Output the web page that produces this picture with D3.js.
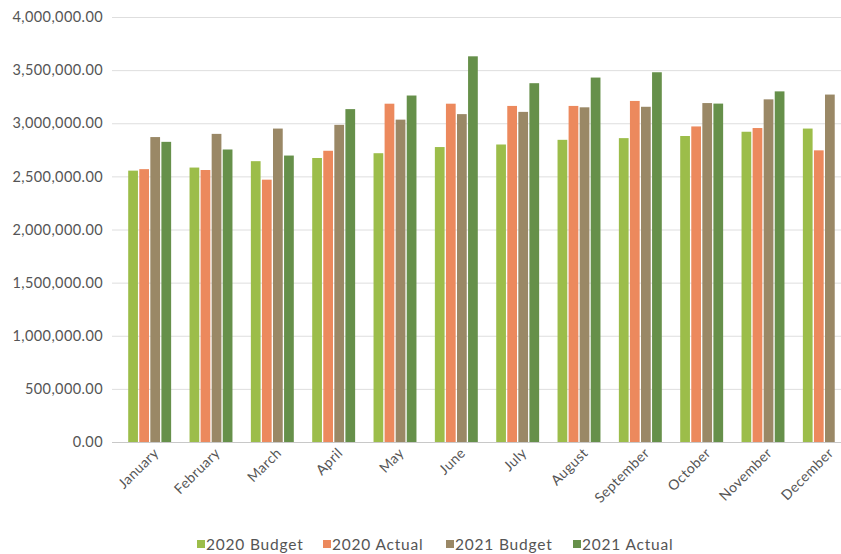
<!DOCTYPE html>
<html><head><meta charset="utf-8">
<script src="https://cdn.jsdelivr.net/npm/d3@7"></script>
<style>body{margin:0;background:#fff;} svg{display:block;}</style>
</head><body>
<svg id="c" width="841" height="554"></svg>
<script>
const months = ["January","February","March","April","May","June","July","August","September","October","November","December"];
const seriesNames = ["2020 Budget","2020 Actual","2021 Budget","2021 Actual"];
const budget2020 = [2554000,2583000,2643000,2673000,2718000,2776000,2800000,2844000,2860000,2880000,2920000,2950000];
const actual2020 = [2568000,2560000,2469000,2741000,3184000,3184000,3163000,3163000,3210000,2970000,2955000,2745000];
const budget2021 = [2870000,2900000,2950000,2985000,3034000,3086000,3107000,3150000,3155000,3190000,3225000,3270000];
const actual2021 = [2825000,2753000,2696000,3133000,3261000,3630000,3377000,3430000,3480000,3185000,3300000,0];
const yTicks = [0,500000,1000000,1500000,2000000,2500000,3000000,3500000,4000000];
const colors = ["#9cbd4a","#ec895d","#9a8866","#66904a"];

const svg = d3.select("#c");
const font = "Lato, 'Open Sans', sans-serif";
const values = [budget2020, actual2020, budget2021, actual2021];

const y = d3.scaleLinear().domain([0,4000000]).range([442,17]);
const x = d3.scaleBand().domain(months).range([119,855]).paddingInner(0.3).paddingOuter(0.15);
const xs = d3.scaleBand().domain(seriesNames).range([0,x.bandwidth()]).paddingInner(0.12);

// gridlines
svg.append("g").selectAll("line").data(yTicks).join("line")
  .attr("x1",112).attr("x2",841)
  .attr("y1",d=>y(d)+0.5).attr("y2",d=>y(d)+0.5)
  .attr("stroke",d=>d===0?"#c8c8c8":"#dedede").attr("stroke-width",1);

// y axis labels
const yAxis = d3.axisLeft(y).tickValues(yTicks).tickSize(0).tickPadding(0)
  .tickFormat(d=>d3.format(",.2f")(d));
const ya = svg.append("g").attr("transform","translate(103,0)").call(yAxis);
ya.select(".domain").remove();
ya.selectAll("text").attr("font-family",font).attr("font-size",14.5).attr("letter-spacing","0.4px").attr("fill","#555");

// bars
const g = svg.append("g");
seriesNames.forEach((s,si)=>{
  g.append("g").selectAll("rect").data(months.map((m,i)=>({m,v:values[si][i]})).filter(d=>d.v>0))
    .join("rect")
    .attr("x",d=>x(d.m)+xs(s))
    .attr("width",xs.bandwidth())
    .attr("y",d=>y(d.v))
    .attr("height",d=>y(0)-y(d.v))
    .attr("fill",colors[si]);
});

// x labels
const xAxis = d3.axisBottom(x).tickSize(0).tickPadding(0);
const xa = svg.append("g").attr("transform","translate(0,450)").call(xAxis);
xa.select(".domain").remove();
xa.selectAll("text")
  .attr("font-family",font).attr("font-size",14).attr("letter-spacing","0.4px").attr("fill","#555")
  .attr("text-anchor","end")
  .attr("dy","0.7em").attr("dx","0")
  .attr("transform","translate(3,-3) rotate(-45)");

// legend
const legX = [197,323,446,573];
const leg = svg.append("g");
seriesNames.forEach((s,i)=>{
  leg.append("rect").attr("x",legX[i]).attr("y",540).attr("width",8).attr("height",8).attr("fill",colors[i]);
  leg.append("text").attr("x",legX[i]+9).attr("y",550).text(s)
    .attr("font-family",font).attr("font-size",15.5).attr("letter-spacing","0.8px").attr("fill","#555");
});
</script>
</body></html>
